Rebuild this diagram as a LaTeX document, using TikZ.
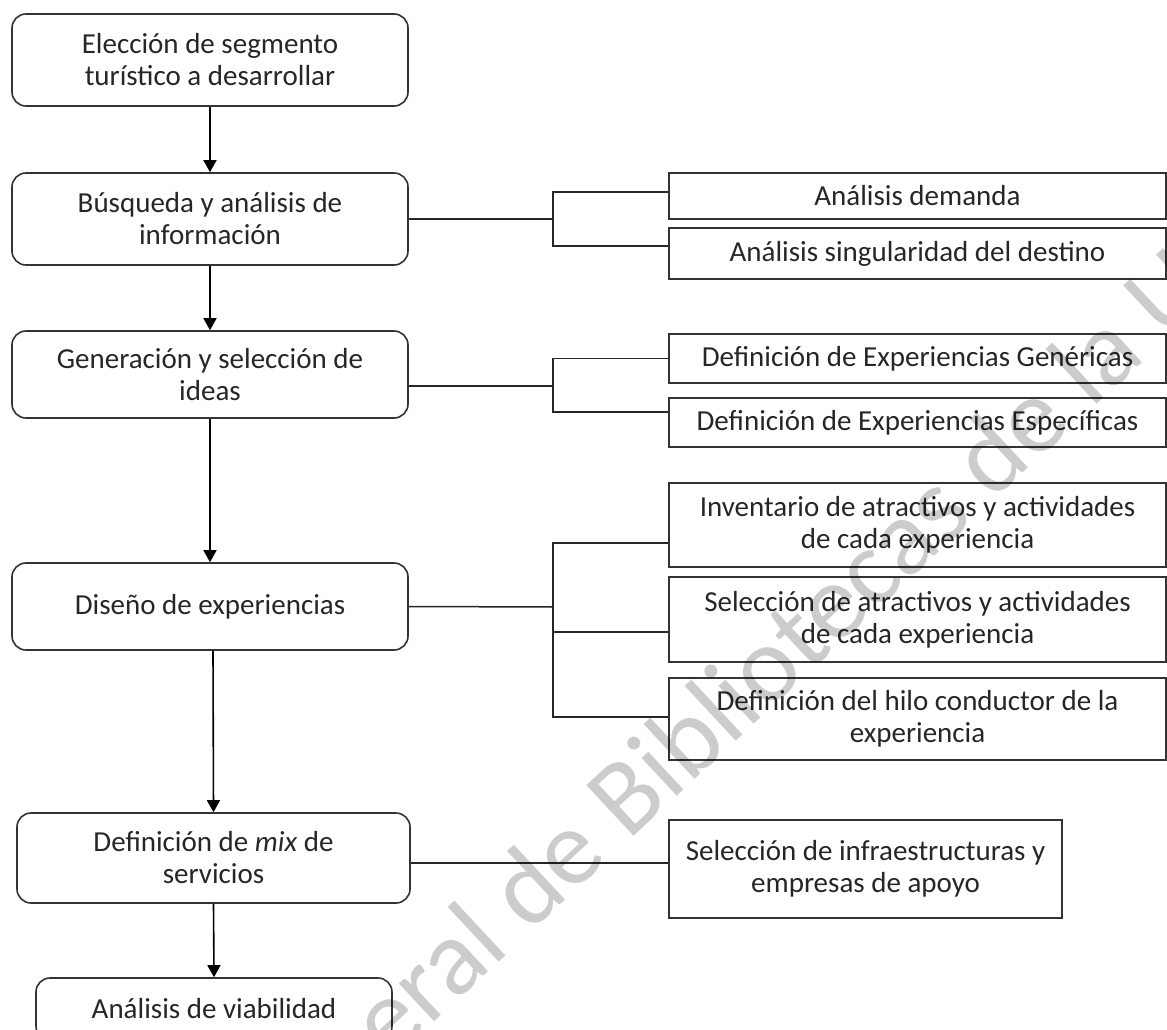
\documentclass[tikz,border=0pt]{standalone}
\usepackage{fontspec}
\setmainfont{Carlito}
\usetikzlibrary{arrows.meta}
\definecolor{edge}{HTML}{333333}
\tikzset{
  stage/.style={draw=edge, line width=1.6pt, rounded corners=14pt, align=center,
    inner sep=0pt, font=\fontsize{29}{32}\selectfont, text=black!85},
  task/.style={draw=edge, line width=1.6pt, align=center, inner sep=0pt,
    font=\fontsize{29}{32}\selectfont, text=black!85},
  flow/.style={line width=1.6pt, -{Triangle[length=12pt,width=13pt]}},
  link/.style={line width=1.5pt, draw=black!85},
}
\begin{document}
\begin{tikzpicture}[x=1pt, y=-1pt]
\useasboundingbox (0,0) rectangle (1167,1030);
\clip (0,0) rectangle (1167,1030);

% main sequence of stages
\node[stage, minimum width=396pt, minimum height=92pt] (s1) at (210,60)
  {Elección de segmento\\turístico a desarrollar};
\node[stage, minimum width=396pt, minimum height=92pt] (s2) at (210,219)
  {Búsqueda y análisis de\\información};
\node[stage, minimum width=396pt, minimum height=87pt] (s3) at (210,374.5)
  {Generación y selección de\\ideas};
\node[stage, minimum width=396pt, minimum height=87pt] (s4) at (210,606.5)
  {Diseño de experiencias};
\node[stage, minimum width=393pt, minimum height=90pt] (s5) at (213.5,858)
  {Definición de \textit{mix} de\\servicios};
\node[stage, minimum width=356pt, minimum height=62pt] (s6) at (214,1009)
  {Análisis de viabilidad};

% tasks attached to each stage
\node[task, minimum width=497pt, minimum height=46pt] (a) at (917.5,196)
  {Análisis demanda};
\node[task, minimum width=497pt, minimum height=51pt] (b) at (917.5,253.5)
  {Análisis singularidad del destino};
\node[task, minimum width=497pt, minimum height=49pt] (c) at (917.5,358.5)
  {Definición de Experiencias Genéricas};
\node[task, minimum width=497pt, minimum height=49pt] (d) at (917.5,422.5)
  {Definición de Experiencias Específicas};
\node[task, minimum width=497pt, minimum height=84pt] (e) at (917.5,525)
  {Inventario de atractivos y actividades\\de cada experiencia};
\node[task, minimum width=497pt, minimum height=85pt] (f) at (917.5,619.5)
  {Selección de atractivos y actividades\\de cada experiencia};
\node[task, minimum width=497pt, minimum height=82pt] (g) at (917.5,719)
  {Definición del hilo conductor de la\\experiencia};
\node[task, minimum width=393pt, minimum height=98pt] (h) at (865.5,869)
  {Selección de infraestructuras y\\empresas de apoyo};

% flow arrows
\draw[flow] (s1.south) -- (s2.north);
\draw[flow] (s2.south) -- (s3.north);
\draw[flow] (s3.south) -- (s4.north);
\draw[flow] ([xshift=3pt]s4.south) -- (s5.north);
\draw[flow] (s5.south) -- (s6.north);

% brackets joining stages to their tasks
\coordinate (j2) at (553,219);
\draw[link] (s2.east) -- (j2);
\draw[link] ([yshift=4pt]a.west) -| (j2) |- ([yshift=7.5pt]b.west);

\coordinate (j3) at (553,386);
\draw[link] ([yshift=-11.5pt]s3.east) -- (j3);
\draw[link] (c.west) -| (j3) |- ([yshift=10.5pt]d.west);

\coordinate (j4) at (553,607);
\draw[link] (s4.east) -- (j4);
\draw[link] ([yshift=-18pt]e.west) -| (j4) |- ([yshift=2pt]g.west);
\draw[link] (j4 |- 0,632) -- ([yshift=-12.5pt]f.west);

\draw[link] ([yshift=-5pt]s5.east) -- ([yshift=6pt]h.west);

% library watermark
\node[rotate=43, anchor=base west, inner sep=0pt, text=black, opacity=0.2,
  font=\fontsize{108}{108}\selectfont] (wm) at (628,842)
  {\llap{Dirección General de }Bibliotecas de la UNAM};
\end{tikzpicture}
\end{document}
